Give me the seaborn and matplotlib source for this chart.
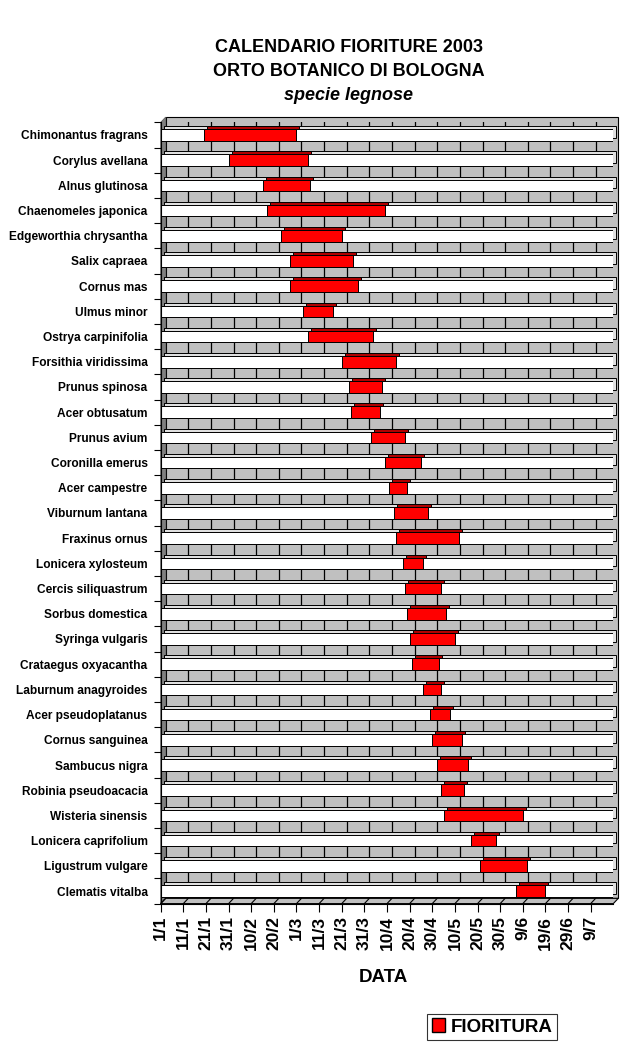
import numpy as np
import seaborn as sns
import matplotlib.pyplot as plt
from matplotlib.patches import Polygon, Patch
from matplotlib.transforms import ScaledTranslation

# species, start / end of flowering (days from 1 January)
species = ["Chimonantus fragrans", "Corylus avellana", "Alnus glutinosa", "Chaenomeles japonica",
           "Edgeworthia chrysantha", "Salix capraea", "Cornus mas", "Ulmus minor",
           "Ostrya carpinifolia", "Forsithia viridissima", "Prunus spinosa", "Acer obtusatum",
           "Prunus avium", "Coronilla emerus", "Acer campestre", "Viburnum lantana",
           "Fraxinus ornus", "Lonicera xylosteum", "Cercis siliquastrum", "Sorbus domestica",
           "Syringa vulgaris", "Crataegus oxyacantha", "Laburnum anagyroides", "Acer pseudoplatanus",
           "Cornus sanguinea", "Sambucus nigra", "Robinia pseudoacacia", "Wisteria sinensis",
           "Lonicera caprifolium", "Ligustrum vulgare", "Clematis vitalba"]
start = [19, 30, 45, 47, 53, 57, 57, 63, 65, 80, 83, 84, 93, 99, 101, 103,
         104, 107, 108, 109, 110, 111, 116, 119, 120, 122, 124, 125, 137, 141, 157]
end = [60, 65, 66, 99, 80, 85, 87, 76, 94, 104, 98, 97, 108, 115, 109, 118,
       132, 116, 124, 126, 130, 123, 124, 128, 133, 136, 134, 160, 148, 162, 170]
season_end = 200
tick_days = list(range(0, 200, 10))
tick_labels = ["1/1", "11/1", "21/1", "31/1", "10/2", "20/2", "1/3", "11/3", "21/3", "31/3",
               "10/4", "20/4", "30/4", "10/5", "20/5", "30/5", "9/6", "19/6", "29/6", "9/7"]

sns.set_style("white")
plt.rcParams['font.family'] = ['Liberation Sans', 'DejaVu Sans']
plt.rcParams['text.color'] = 'black'
plt.rcParams['xtick.color'] = 'black'
plt.rcParams['ytick.color'] = 'black'
plt.rcParams['axes.labelcolor'] = 'black'

fig = plt.figure(figsize=(6.41, 10.45), dpi=100)
ax = fig.add_axes([0.2507, 0.1353, 0.7061, 0.7476])
ax.set_facecolor('none')

n = len(species)
dx, dy = 2.2, 0.21  # 3D depth of the walls in data units

# back wall, left wall and floor
ax.add_patch(Polygon([(dx, -0.5 - dy), (season_end + dx, -0.5 - dy),
                      (season_end + dx, n - 0.5 - dy), (dx, n - 0.5 - dy)],
                     closed=True, facecolor='#c0c0c0', edgecolor='black', lw=0.8,
                     zorder=0.2, clip_on=False))
ax.add_patch(Polygon([(0, -0.5), (dx, -0.5 - dy), (dx, n - 0.5 - dy), (0, n - 0.5)],
                     closed=True, facecolor='#808080', edgecolor='#606060', lw=0.6,
                     zorder=0.3, clip_on=False))
ax.add_patch(Polygon([(0, n - 0.5), (season_end, n - 0.5), (season_end + dx, n - 0.5 - dy),
                      (dx, n - 0.5 - dy)],
                     closed=True, facecolor='#c0c0c0', edgecolor='black', lw=0.8,
                     zorder=0.3, clip_on=False))
ax.vlines([d + dx for d in tick_days[1:]], -0.5 - dy, n - 0.5 - dy, color='black', lw=0.9, zorder=0.25)
for d in tick_days:
    ax.plot([d, d + dx], [n - 0.5, n - 0.5 - dy], color='black', lw=0.8, zorder=0.35, clip_on=False)

depth = ScaledTranslation(3 / 100, 3 / 100, fig.dpi_scale_trans)


def draw(values, color, shade):
    n0 = len(ax.patches)
    sns.barplot(x=values, y=species, orient='h', color=color, saturation=1, width=0.46,
                edgecolor='black', linewidth=0.7, ax=ax)
    if shade:
        for p in ax.patches[n0:]:
            p.set_transform(ax.transData + depth)
            p.set_clip_on(False)


full = [season_end] * n
draw(full, '#e0e0e0', True)
draw(end, '#b00000', True)
draw(start, '#e0e0e0', True)
draw(full, 'white', False)
draw(end, '#ff0000', False)
draw(start, 'white', False)

ax.set_xlim(0, season_end)
ax.set_ylim(n - 0.5, -0.5)
ax.set_xlabel('')
ax.set_ylabel('')
ax.set_xticks(tick_days)
ax.set_xticklabels(tick_labels, rotation=90, fontsize=12.5, fontweight='bold')
ax.set_yticks(range(n))
ax.set_yticklabels(species, fontsize=8.6, fontweight='bold')
ax.set_yticks(np.arange(-0.5, n, 1), minor=True)
ax.tick_params(axis='y', which='major', length=0, pad=9.5)
ax.tick_params(axis='y', which='minor', length=5, width=0.8, color='black', left=True)
ax.tick_params(axis='x', length=6, width=0.8, color='black', bottom=True, pad=3)
for s in ['top', 'right']:
    ax.spines[s].set_visible(False)
ax.spines['left'].set_color('black')
ax.spines['bottom'].set_color('black')
ax.spines['left'].set_linewidth(0.8)
ax.spines['bottom'].set_linewidth(0.8)

fig.text(0.5437, 1 - 47 / 1045, "CALENDARIO FIORITURE 2003", ha='center', va='center',
         fontsize=13, fontweight='bold')
fig.text(0.5437, 1 - 72 / 1045, "ORTO BOTANICO DI BOLOGNA", ha='center', va='center',
         fontsize=13, fontweight='bold')
fig.text(0.5437, 1 - 95 / 1045, "specie legnose", ha='center', va='center',
         fontsize=13, fontweight='bold', style='italic')
fig.text(383.5 / 641, 1 - 977 / 1045, "DATA", ha='center', va='center',
         fontsize=13.5, fontweight='bold')

leg = fig.legend(handles=[Patch(facecolor='#ff0000', edgecolor='black')], labels=['FIORITURA'],
                 loc='center', bbox_to_anchor=(492 / 641, 1 - 1027 / 1045),
                 prop={'weight': 'bold', 'size': 13.5}, frameon=True, fancybox=False,
                 handlelength=0.7, handleheight=0.7, handletextpad=0.3, borderpad=0.25,
                 borderaxespad=0)
leg.get_frame().set_edgecolor('black')
leg.get_frame().set_linewidth(0.8)

fig.savefig('out.png', dpi=100)
